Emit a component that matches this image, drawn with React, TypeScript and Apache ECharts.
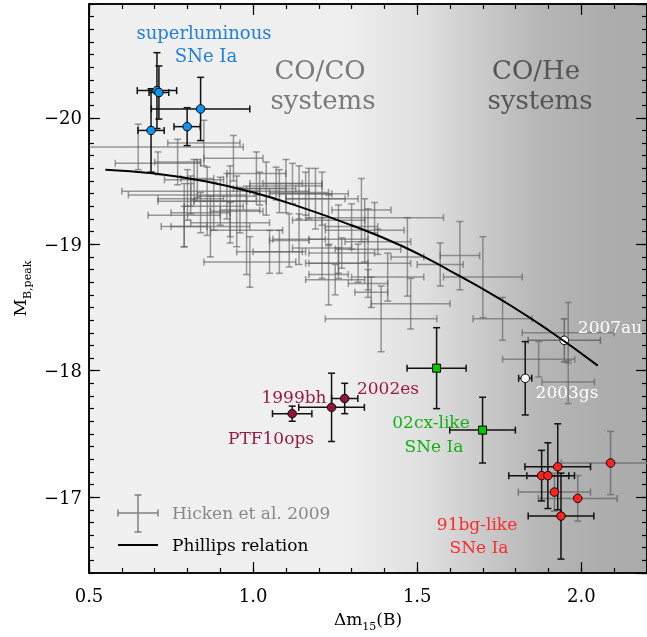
import React, { useEffect, useRef } from "react";
import * as echarts from "echarts";

const FONT = "'DejaVu Serif', 'Liberation Serif', serif";

// Phillips relation
const phillipsDm15 = [0.55, 0.7, 0.85, 1.0, 1.15, 1.3, 1.45, 1.6, 1.75, 1.9, 2.05];
const phillipsMag = [-19.59, -19.56, -19.5, -19.41, -19.29, -19.15, -18.99, -18.79, -18.57, -18.32, -18.04];

// Hicken et al. 2009: [dm15, M_B,peak, err dm15, err M]
const hicken: number[][] = [
  [0.65, -19.77, 0.32, 0.18], [0.85, -19.8, 0.11, 0.18], [0.94, -19.68, 0.09, 0.18], [0.77, -19.65, 0.07, 0.18],
  [0.71, -19.64, 0.13, 0.09], [0.8, -19.39, 0.18, 0.2], [0.79, -19.23, 0.11, 0.25], [0.82, -19.51, 0.09, 0.16],
  [0.83, -19.52, 0.05, 0.15], [0.86, -19.34, 0.15, 0.27], [0.88, -19.3, 0.09, 0.19], [0.9, -19.34, 0.08, 0.19],
  [0.92, -19.38, 0.09, 0.18], [0.93, -19.34, 0.11, 0.28], [0.95, -19.26, 0.08, 0.28], [0.96, -19.27, 0.06, 0.18],
  [0.98, -19.11, 0.11, 0.35], [0.99, -18.86, 0.14, 0.2], [1.01, -19.56, 0.09, 0.17], [1.02, -19.44, 0.08, 0.13],
  [1.04, -19.44, 0.09, 0.21], [1.05, -18.94, 0.1, 0.17], [1.07, -19.48, 0.08, 0.13], [1.08, -18.94, 0.08, 0.17],
  [1.08, -19.42, 0.09, 0.17], [1.1, -19.46, 0.11, 0.21], [1.11, -19.03, 0.06, 0.21], [1.12, -19.48, 0.09, 0.16],
  [1.14, -19.41, 0.09, 0.21], [1.16, -19.4, 0.08, 0.17], [1.17, -19.4, 0.12, 0.2], [1.19, -19.36, 0.09, 0.24],
  [1.21, -19.36, 0.11, 0.21], [1.21, -18.97, 0.09, 0.24], [0.79, -19.14, 0.07, 0.16], [0.81, -19.42, 0.21, 0.12],
  [0.81, -19.36, 0.1, 0.12], [0.84, -19.25, 0.09, 0.16], [0.87, -19.14, 0.12, 0.24], [0.93, -19.17, 0.12, 0.16],
  [1.23, -19.19, 0.11, 0.2], [1.26, -19.04, 0.09, 0.27], [1.25, -18.72, 0.09, 0.12], [1.3, -19.14, 0.08, 0.18],
  [1.34, -19.11, 0.12, 0.25], [1.35, -18.96, 0.1, 0.32], [1.39, -18.41, 0.17, 0.26], [1.41, -18.74, 0.11, 0.19],
  [1.47, -18.9, 0.05, 0.31], [1.48, -18.53, 0.12, 0.2], [1.57, -18.84, 0.07, 0.17], [1.63, -18.91, 0.06, 0.27],
  [1.7, -18.74, 0.12, 0.32], [1.76, -18.41, 0.09, 0.17], [1.96, -18.3, 0.14, 0.24], [1.87, -18.09, 0.11, 0.14],
  [1.96, -17.91, 0.08, 0.17], [1.37, -19.21, 0.21, 0.12], [1.38, -19.02, 0.1, 0.1], [1.32, -18.85, 0.16, 0.15],
  [1.27, -18.93, 0.1, 0.12], [1.36, -18.62, 0.05, 0.12], [1.26, -18.85, 0.09, 0.12], [1.33, -19.27, 0.09, 0.25],
  [1.35, -18.69, 0.06, 0.11], [1.23, -18.76, 0.06, 0.24], [1.14, -19.04, 0.08, 0.2],
];

const superluminous = [
  [0.707, -20.215, 0.06, 0.3], [0.713, -20.2, 0.03, 0.21], [0.84, -20.07, 0.15, 0.25],
  [0.799, -19.93, 0.04, 0.15], [0.689, -19.9, 0.04, 0.33],
];
const sn1999bh = [[1.239, -17.71, 0.1, 0.27]];
const sn2002es = [[1.279, -17.78, 0.04, 0.12]];
const ptf10ops = [[1.119, -17.66, 0.06, 0.06]];
const cx02Like = [[1.559, -18.02, 0.09, 0.32], [1.699, -17.53, 0.1, 0.26]];
const sn2007au = [[1.948, -18.24, 0.11, 0.17]];
const sn2003gs = [[1.829, -17.94, 0.02, 0.29]];
const bg91Dark = [[1.928, -17.24, 0.1, 0.34], [1.879, -17.17, 0.1, 0.2], [1.898, -17.17, 0.064, 0.26], [1.938, -16.85, 0.1, 0.34]];
const bg91Light = [[2.089, -17.27, 0.15, 0.25], [1.918, -17.04, 0.11, 0.15], [1.989, -16.99, 0.12, 0.18]];

const errRender = (color: string, width: number) => (params: any, api: any) => {
  const cs = params.coordSys;
  const x = api.value(0), y = api.value(1), ex = api.value(2), ey = api.value(3);
  const c = api.coord([x, y]);
  const l = api.coord([x - ex, y]);
  const r = api.coord([x + ex, y]);
  const t = api.coord([x, y - ey]);
  const b = api.coord([x, y + ey]);
  const xmin = cs.x, xmax = cs.x + cs.width, ymin = cs.y, ymax = cs.y + cs.height;
  const cap = 3.5;
  const style = { stroke: color, lineWidth: width };
  const children: any[] = [];
  const ln = (x1: number, y1: number, x2: number, y2: number) =>
    children.push({ type: "line", shape: { x1, y1, x2, y2 }, style });
  ln(Math.max(l[0], xmin), c[1], Math.min(r[0], xmax), c[1]);
  if (l[0] >= xmin) ln(l[0], c[1] - cap, l[0], c[1] + cap);
  if (r[0] <= xmax) ln(r[0], c[1] - cap, r[0], c[1] + cap);
  const ty = Math.min(t[1], b[1]), by = Math.max(t[1], b[1]);
  ln(c[0], Math.max(ty, ymin), c[0], Math.min(by, ymax));
  if (ty >= ymin) ln(c[0] - cap, ty, c[0] + cap, ty);
  if (by <= ymax) ln(c[0] - cap, by, c[0] + cap, by);
  return { type: "group", children };
};

const errSeries = (data: number[][], color: string, width: number) => ({
  type: "custom",
  data,
  xAxisIndex: 0,
  yAxisIndex: 0,
  silent: true,
  encode: { x: 0, y: 1 },
  renderItem: errRender(color, width),
});

const dots = (data: number[][], symbol: string, size: number, color: string) => ({
  type: "scatter",
  data: data.map((d) => [d[0], d[1]]),
  xAxisIndex: 0,
  yAxisIndex: 0,
  symbol,
  symbolSize: size,
  silent: true,
  itemStyle: { color, borderColor: "#000", borderWidth: 1, opacity: 1 },
});

const txt = (text: string, x: number, y: number, color: string, size: number, align = "center") => ({
  type: "text",
  x,
  y,
  silent: true,
  z: 100,
  style: {
    text,
    fill: color,
    font: `${size}px ${FONT}`,
    align,
    verticalAlign: "middle",
    textAlign: align,
    textVerticalAlign: "middle",
  },
});

export default function App() {
  const ref = useRef<HTMLDivElement>(null);
  useEffect(() => {
    const chart = echarts.init(ref.current!, null, { renderer: "svg" });
    const tickLabel = { fontSize: 18, fontFamily: FONT, color: "#000" };
    const majorX = (pos: string, labels: boolean) => ({
      type: "value",
      position: pos,
      min: 0.5,
      max: 2.2,
      interval: 0.5,
      axisLine: { show: true, lineStyle: { color: "#000", width: 1.5 } },
      axisTick: { show: true, inside: true, length: 11, lineStyle: { color: "#000", width: 1.2 } },
      axisLabel: {
        show: labels,
        ...tickLabel,
        margin: 13,
        showMaxLabel: false,
        formatter: (v: number) => v.toFixed(1),
      },
      splitLine: { show: false },
      ...(labels
        ? {
            name: "{d|Δm}{s|15}{d|(B)}",
            nameLocation: "middle",
            nameGap: 37,
            nameTextStyle: {
              rich: {
                d: { fontSize: 17, fontFamily: FONT, color: "#000", verticalAlign: "bottom", padding: [0, 0, 5, 0] },
                s: { fontSize: 11, fontFamily: FONT, color: "#000", verticalAlign: "bottom" },
              },
            },
          }
        : {}),
    });
    const minorX = (pos: string) => ({
      type: "value",
      position: pos,
      min: 0.5,
      max: 2.2,
      interval: 0.1,
      axisLine: { show: false },
      axisTick: { show: true, inside: true, length: 5, lineStyle: { color: "#000", width: 1.2 } },
      axisLabel: { show: false },
      splitLine: { show: false },
    });
    const majorY = (pos: string, labels: boolean) => ({
      type: "value",
      position: pos,
      min: -20.9,
      max: -16.4,
      inverse: true,
      splitNumber: 5,
      axisLine: { show: true, lineStyle: { color: "#000", width: 1.5 } },
      axisTick: { show: true, inside: true, length: 11, lineStyle: { color: "#000", width: 1.2 } },
      axisLabel: {
        show: labels,
        ...tickLabel,
        margin: 7,
        showMinLabel: false,
        showMaxLabel: false,
        formatter: (v: number) => (Number.isInteger(v) ? String(v).replace("-", "\u2212") : ""),
      },
      splitLine: { show: false },
      ...(labels
        ? {
            name: "{m|M}{s|B,peak}",
            nameLocation: "middle",
            nameGap: 54,
            nameRotate: 90,
            nameTextStyle: {
              rich: {
                m: { fontSize: 17, fontFamily: FONT, color: "#000", verticalAlign: "bottom", padding: [0, 0, 5, 0] },
                s: { fontSize: 11, fontFamily: FONT, color: "#000", verticalAlign: "bottom" },
              },
            },
          }
        : {}),
    });
    const minorY = (pos: string) => ({
      type: "value",
      position: pos,
      min: -20.9,
      max: -16.4,
      interval: 0.1,
      inverse: true,
      axisLine: { show: false },
      axisTick: { show: true, inside: true, length: 5, lineStyle: { color: "#000", width: 1.2 } },
      axisLabel: { show: false },
      splitLine: { show: false },
    });

    const grayBar = "rgba(95,95,95,0.62)";
    const option: any = {
      animation: false,
      grid: {
        left: 89,
        top: 4,
        right: -3,
        bottom: 60,
        show: true,
        borderColor: "#000",
        borderWidth: 1.5,
        backgroundColor: new echarts.graphic.LinearGradient(0, 0, 1, 0, [
          { offset: 0, color: "#f0f0f0" },
          { offset: 0.45, color: "#efefef" },
          { offset: 0.6, color: "#e0e0e0" },
          { offset: 0.69, color: "#cdcdcd" },
          { offset: 0.81, color: "#b6b6b6" },
          { offset: 0.92, color: "#adadad" },
          { offset: 1, color: "#ababab" },
        ]),
      },
      xAxis: [majorX("bottom", true), minorX("bottom"), majorX("top", false), minorX("top")],
      yAxis: [majorY("left", true), minorY("left"), majorY("right", false), minorY("right")],
      series: [
        errSeries(hicken, grayBar, 1.5),
        {
          type: "line",
          data: phillipsDm15.map((x, i) => [x, phillipsMag[i]]),
          xAxisIndex: 0,
          yAxisIndex: 0,
          smooth: true,
          showSymbol: false,
          symbol: "none",
          silent: true,
          lineStyle: { color: "#000", width: 2 },
        },
        errSeries(sn2007au, "#6e6e6e", 1.5),
        errSeries(bg91Light, "#777777", 1.5),
        errSeries(superluminous, "#111", 1.5),
        errSeries(sn1999bh, "#111", 1.5),
        errSeries(sn2002es, "#111", 1.5),
        errSeries(ptf10ops, "#111", 1.5),
        errSeries(cx02Like, "#111", 1.5),
        errSeries(sn2003gs, "#111", 1.5),
        errSeries(bg91Dark, "#111", 1.5),
        dots(superluminous, "circle", 8.5, "#0b95f0"),
        dots(sn1999bh, "circle", 8.5, "#8e1733"),
        dots(sn2002es, "circle", 8.5, "#8e1733"),
        dots(ptf10ops, "circle", 8.5, "#8e1733"),
        dots(cx02Like, "rect", 8, "#00c800"),
        dots(sn2007au, "circle", 8.5, "#ffffff"),
        dots(sn2003gs, "circle", 8.5, "#ffffff"),
        dots(bg91Light, "circle", 8.5, "#ff2020"),
        dots(bg91Dark, "circle", 8.5, "#ff2020"),
      ],
      graphic: [
        txt("superluminous", 204, 32, "#1f7fe0", 18),
        txt("SNe Ia", 206, 55, "#1f7fe0", 18),
        txt("CO/CO", 320, 70, "#7a7a7a", 26),
        txt("systems", 323, 100, "#7a7a7a", 26),
        txt("CO/He", 536, 70, "#555555", 26),
        txt("systems", 540, 100, "#555555", 26),
        txt("1999bh", 294, 397, "#9a1a42", 17),
        txt("2002es", 388, 388, "#9a1a42", 17),
        txt("PTF10ops", 271, 438, "#9a1a42", 17),
        txt("02cx-like", 431, 422, "#12b012", 17),
        txt("SNe Ia", 434, 446, "#12b012", 17),
        txt("2007au", 610, 327, "#ffffff", 17),
        txt("2003gs", 567, 392, "#ffffff", 17),
        txt("91bg-like", 477, 524, "#ff2a2a", 17),
        txt("SNe Ia", 479, 547, "#ff2a2a", 17),
        // legend
        { type: "line", silent: true, shape: { x1: 118, y1: 513, x2: 158, y2: 513 }, style: { stroke: "#808080", lineWidth: 1.5 } },
        { type: "line", silent: true, shape: { x1: 138, y1: 495, x2: 138, y2: 532 }, style: { stroke: "#808080", lineWidth: 1.5 } },
        { type: "line", silent: true, shape: { x1: 118, y1: 509.5, x2: 118, y2: 516.5 }, style: { stroke: "#808080", lineWidth: 1.5 } },
        { type: "line", silent: true, shape: { x1: 158, y1: 509.5, x2: 158, y2: 516.5 }, style: { stroke: "#808080", lineWidth: 1.5 } },
        { type: "line", silent: true, shape: { x1: 134.5, y1: 495, x2: 141.5, y2: 495 }, style: { stroke: "#808080", lineWidth: 1.5 } },
        { type: "line", silent: true, shape: { x1: 134.5, y1: 532, x2: 141.5, y2: 532 }, style: { stroke: "#808080", lineWidth: 1.5 } },
        txt("Hicken et al. 2009", 172, 513, "#888888", 17, "left"),
        { type: "line", silent: true, shape: { x1: 118, y1: 545, x2: 158, y2: 545 }, style: { stroke: "#000", lineWidth: 2 } },
        txt("Phillips relation", 172, 545, "#000000", 17, "left"),
      ],
    };
    chart.setOption(option);
    return () => chart.dispose();
  }, []);
  return <div ref={ref} style={{ position: "fixed", left: 0, top: 0, width: 647, height: 637 }} />;
}
